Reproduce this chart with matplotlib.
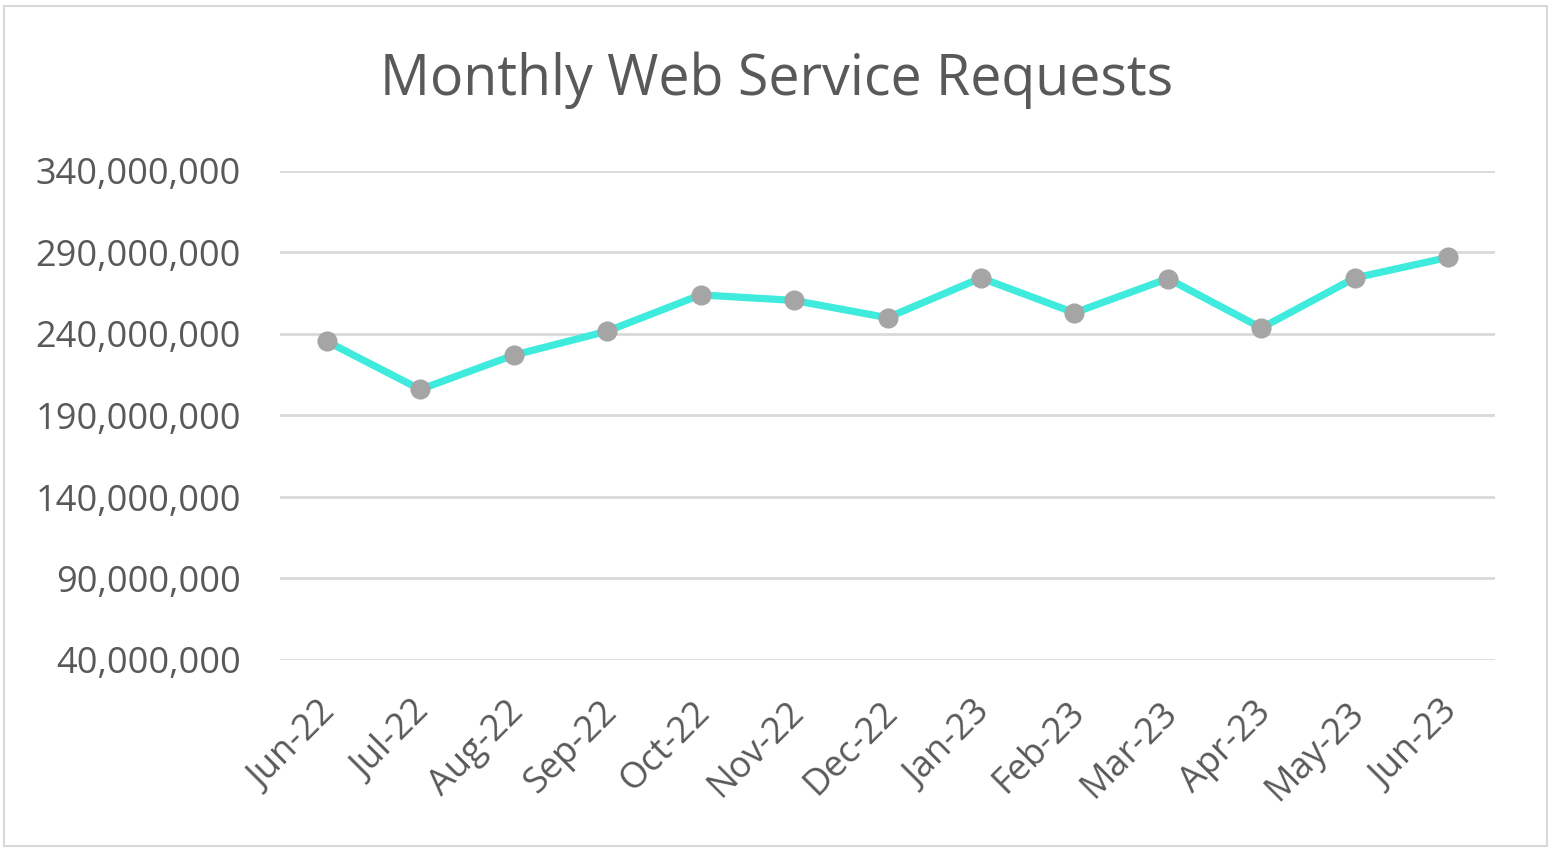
import matplotlib
matplotlib.use('Agg')
from matplotlib import pyplot as plt
from matplotlib.ticker import FuncFormatter
from matplotlib.patches import Rectangle
from matplotlib.transforms import ScaledTranslation

# data
months = ['Jun-22', 'Jul-22', 'Aug-22', 'Sep-22', 'Oct-22', 'Nov-22', 'Dec-22',
          'Jan-23', 'Feb-23', 'Mar-23', 'Apr-23', 'May-23', 'Jun-23']
requests = [235.5e6, 206e6, 227e6, 241.7e6, 264e6, 260.6e6, 250e6,
            274.4e6, 253e6, 274e6, 243.7e6, 274.4e6, 287e6]
y_ticks = [40e6, 90e6, 140e6, 190e6, 240e6, 290e6, 340e6]

TEXT = '#595959'
plt.rcParams['font.family'] = ['Open Sans', 'DejaVu Sans']

fig = plt.figure(figsize=(15.53, 8.52), dpi=100)
ax = fig.add_axes([280/1553, 1-660/852, (1495-280)/1553, (660-171)/852])

x = list(range(len(months)))
ax.plot(x, requests, color='#3EEBDD', lw=5.2, marker='o', markersize=13.5,
        markerfacecolor='#A5A5A5', markeredgecolor='#A5A5A5', zorder=3)

ax.set_xlim(-0.5, len(months)-0.5)
ax.set_ylim(40e6, 340e6)
ax.set_yticks(y_ticks)
ax.yaxis.set_major_formatter(FuncFormatter(lambda v, p: '{:,.0f}'.format(v)))
ax.set_xticks(x)
ax.set_xticklabels(months, rotation=45, ha='right', rotation_mode='anchor')
ax.tick_params(axis='both', length=0, colors=TEXT, labelsize=26)
ax.tick_params(axis='y', pad=28)
ax.tick_params(axis='x', pad=25)
# nudge the rotated month labels a little to the left
shift = ScaledTranslation(-8/100, 0, fig.dpi_scale_trans)
for lbl in ax.get_xticklabels():
    lbl.set_transform(lbl.get_transform() + shift)
ax.grid(axis='y', color='#D9D9D9', lw=2)
ax.set_axisbelow(True)
for s in ax.spines.values():
    s.set_visible(False)

fig.text(0.5, 1-80/852, 'Monthly Web Service Requests', ha='center', va='center',
         fontsize=40, color=TEXT)

# chart border
fig.patches.append(Rectangle((4/1553, 6/852), 1-10/1553, 1-12/852,
                             transform=fig.transFigure, fill=False,
                             edgecolor='#D9D9D9', lw=1.5))

fig.savefig('out.png', dpi=100)
